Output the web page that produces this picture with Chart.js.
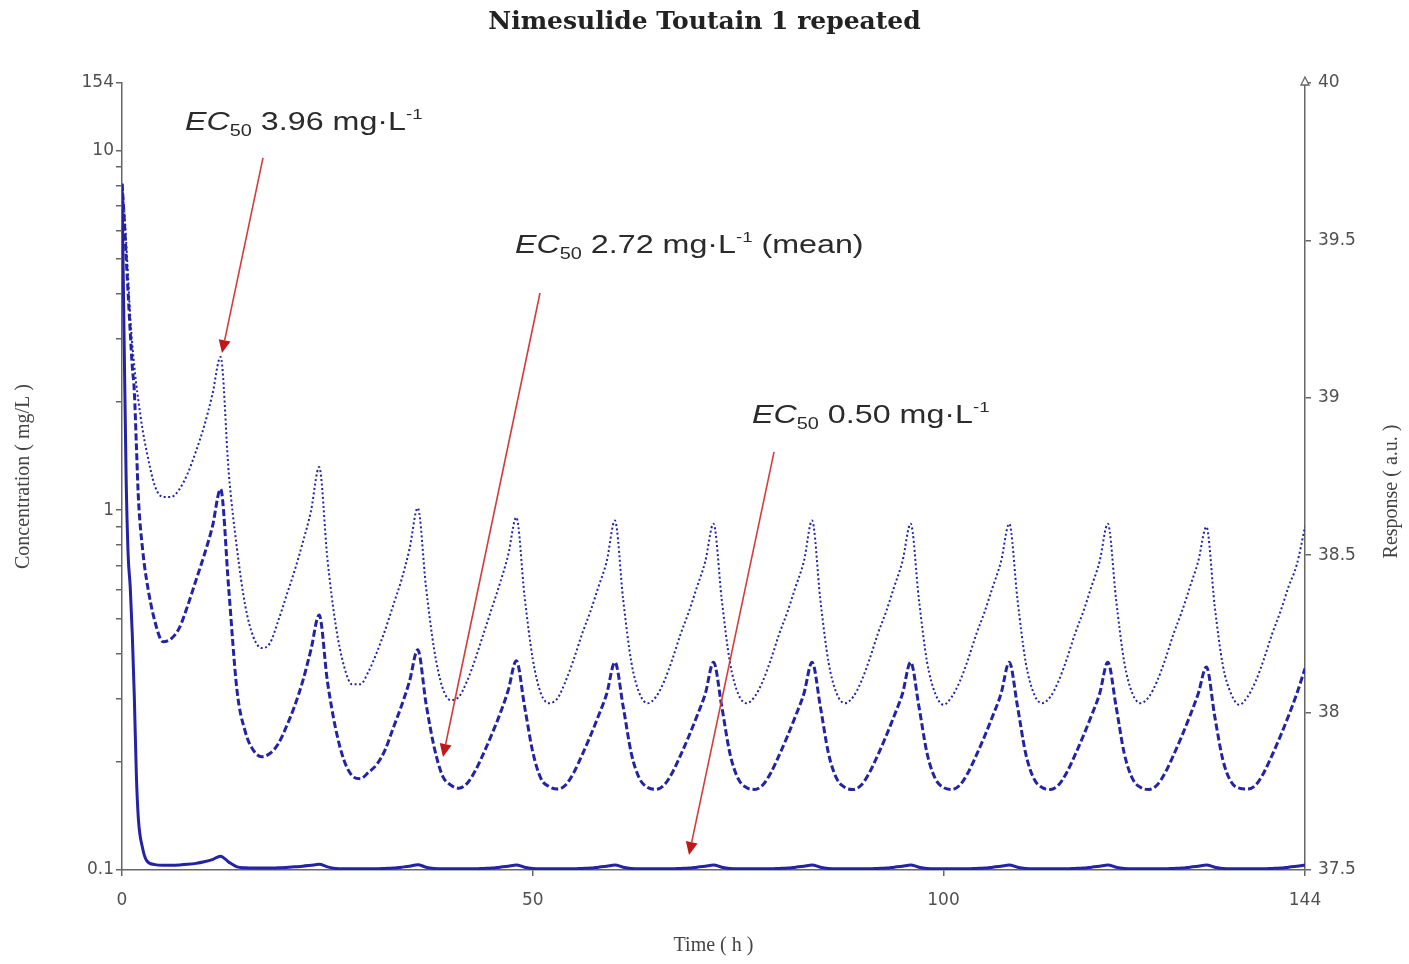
<!DOCTYPE html>
<html><head><meta charset="utf-8">
<script src="https://cdn.jsdelivr.net/npm/chart.js@4.4.1/dist/chart.umd.min.js"></script>
<style>html,body{margin:0;padding:0;background:#fff;}#wrap{width:1409px;height:964px;}</style>
</head><body><div id="wrap"><canvas id="c" width="1409" height="964"></canvas></div>
<script>
// ---- data (time in hours, response in a.u.) ----
const timeH = [0,0.25,0.5,0.75,1,1.25,1.5,1.75,2,2.5,3,
  4,5,6,7,8,9,10,11,
  12,13,14,15,16,17,18,19,20,21,22,23,
  24,25,26,27,28,29,30,31,32,33,34,35,
  36,37,38,39,40,41,42,43,44,45,46,47,
  48,49,50,51,52,53,54,55,56,57,58,59,
  60,61,62,63,64,65,66,67,68,69,70,71,
  72,73,74,75,76,77,78,79,80,81,82,83,
  84,85,86,87,88,89,90,91,92,93,94,95,
  96,97,98,99,100,101,102,103,104,105,106,107,
  108,109,110,111,112,113,114,115,116,117,118,119,
  120,121,122,123,124,125,126,127,128,129,130,131,
  132,133,134,135,136,137,138,139,140,141,142,143,
  144];

const respEC396 = [39.68,39.60,39.50,39.38,39.26,39.17,39.10,39.04,38.99,38.90,38.83,
  38.72,38.685,38.685,38.71,38.76,38.83,38.91,39.01,
  39.13,38.76,38.52,38.34,38.24,38.205,38.22,38.29,38.37,38.45,38.54,38.64,
  38.78,38.49,38.28,38.15,38.09,38.09,38.13,38.19,38.26,38.34,38.42,38.52,
  38.65,38.40,38.20,38.08,38.04,38.05,38.10,38.17,38.25,38.33,38.41,38.50,
  38.62,38.37,38.17,38.06,38.03,38.045,38.10,38.17,38.25,38.32,38.40,38.48,
  38.61,38.36,38.16,38.06,38.03,38.05,38.10,38.17,38.25,38.32,38.40,38.48,
  38.60,38.36,38.16,38.06,38.03,38.05,38.10,38.17,38.25,38.32,38.40,38.48,
  38.61,38.36,38.16,38.06,38.03,38.05,38.10,38.17,38.25,38.32,38.40,38.48,
  38.60,38.36,38.16,38.06,38.025,38.05,38.10,38.17,38.25,38.32,38.40,38.48,
  38.60,38.36,38.16,38.06,38.03,38.05,38.10,38.17,38.25,38.32,38.40,38.48,
  38.60,38.36,38.16,38.06,38.03,38.05,38.10,38.17,38.25,38.32,38.40,38.48,
  38.59,38.34,38.15,38.06,38.025,38.05,38.10,38.17,38.25,38.32,38.40,38.47,
  38.59];

const respEC272 = [39.68,39.58,39.45,39.33,39.21,39.10,39.02,38.85,38.68,38.52,38.42,
  38.29,38.225,38.235,38.27,38.34,38.42,38.50,38.59,
  38.71,38.39,38.07,37.94,37.88,37.86,37.87,37.90,37.955,38.02,38.10,38.20,
  38.31,38.10,37.95,37.85,37.80,37.79,37.81,37.835,37.88,37.95,38.02,38.10,
  38.20,38.03,37.89,37.80,37.77,37.76,37.775,37.815,37.87,37.93,37.995,38.07,
  38.165,38.02,37.875,37.79,37.765,37.757,37.77,37.81,37.865,37.925,37.99,38.06,
  38.16,38.02,37.87,37.79,37.762,37.756,37.77,37.81,37.865,37.925,37.99,38.06,
  38.16,38.02,37.87,37.79,37.762,37.756,37.77,37.81,37.865,37.925,37.99,38.06,
  38.16,38.02,37.87,37.79,37.762,37.756,37.77,37.81,37.865,37.925,37.99,38.06,
  38.16,38.02,37.87,37.79,37.762,37.756,37.77,37.81,37.865,37.925,37.99,38.06,
  38.16,38.02,37.87,37.79,37.762,37.756,37.77,37.81,37.865,37.925,37.99,38.06,
  38.16,38.02,37.87,37.79,37.762,37.756,37.77,37.81,37.865,37.925,37.99,38.06,
  38.145,37.99,37.85,37.78,37.76,37.757,37.77,37.81,37.865,37.925,37.99,38.06,
  38.14];

const respEC050 = [39.68,39.20,38.75,38.50,38.40,38.25,38.05,37.80,37.66,37.57,37.53,
  37.517,37.515,37.515,37.516,37.518,37.521,37.526,37.533,
  37.544,37.525,37.510,37.507,37.506,37.506,37.506,37.507,37.508,37.510,37.512,37.515,
  37.518,37.510,37.505,37.504,37.504,37.504,37.504,37.504,37.505,37.506,37.509,37.512,
  37.517,37.509,37.505,37.504,37.504,37.504,37.504,37.504,37.505,37.506,37.509,37.512,
  37.516,37.509,37.505,37.504,37.504,37.504,37.504,37.504,37.505,37.506,37.509,37.512,
  37.516,37.509,37.505,37.504,37.504,37.504,37.504,37.504,37.505,37.506,37.509,37.512,
  37.516,37.509,37.505,37.504,37.504,37.504,37.504,37.504,37.505,37.506,37.509,37.512,
  37.516,37.509,37.505,37.504,37.504,37.504,37.504,37.504,37.505,37.506,37.509,37.512,
  37.516,37.509,37.505,37.504,37.504,37.504,37.504,37.504,37.505,37.506,37.509,37.512,
  37.516,37.509,37.505,37.504,37.504,37.504,37.504,37.504,37.505,37.506,37.509,37.512,
  37.516,37.509,37.505,37.504,37.504,37.504,37.504,37.504,37.505,37.506,37.509,37.512,
  37.516,37.509,37.505,37.504,37.504,37.504,37.504,37.504,37.505,37.506,37.509,37.512,
  37.516];

// ---- axis ticks ----
const timeTicks = [0, 50, 100, 144];
const respTicks = [37.5, 38, 38.5, 39, 39.5, 40];
const concTicks = [0.1,0.2,0.3,0.4,0.5,0.6,0.7,0.8,0.9,1,2,3,4,5,6,7,8,9,10,15.4];
const concLabeled = [0.1, 1, 10, 15.4];
const concLabelText = ['0.1', '1', '10', '154'];

// ---- annotations (EC50 labels) ----
const ecValues = ['3.96', '2.72', '0.50'];
const ecSuffix = ['', ' (mean)', ''];
const ecTextAt = [[7.67, 39.851], [47.84, 39.46], [76.69, 38.92]];
const ecArrowFrom = [[17.16, 39.762], [50.88, 39.333], [79.37, 38.828]];
const ecArrowTo = [[12.17, 39.142], [39.07, 37.859], [69.02, 37.548]];

const pts = arr => timeH.map((t, i) => ({x: t, y: arr[i]}));
const curveColor = '#2323a3';
const axisColor = '#666';
const tickFont = {family: "'DejaVu Sans', sans-serif", size: 17};
const serif = "'Liberation Serif', 'DejaVu Serif', serif";

const annotPlugin = {
  id: 'annot',
  afterDatasetsDraw(chart) {
    const ctx = chart.ctx, xs = chart.scales.x, ys = chart.scales.yResp;
    ctx.save();
    for (let i = 0; i < ecArrowFrom.length; i++) {
      const x1 = xs.getPixelForValue(ecArrowFrom[i][0]), y1 = ys.getPixelForValue(ecArrowFrom[i][1]);
      const x2 = xs.getPixelForValue(ecArrowTo[i][0]), y2 = ys.getPixelForValue(ecArrowTo[i][1]);
      const a = Math.atan2(y2 - y1, x2 - x1);
      const hl = 13, hw = 6;
      const bx = x2 - hl * Math.cos(a), by = y2 - hl * Math.sin(a);
      ctx.strokeStyle = '#d43c3c'; ctx.lineWidth = 1.6;
      ctx.beginPath(); ctx.moveTo(x1, y1); ctx.lineTo(bx, by); ctx.stroke();
      ctx.fillStyle = '#c01818';
      ctx.beginPath();
      ctx.moveTo(x2, y2);
      ctx.lineTo(bx + hw * Math.sin(a), by - hw * Math.cos(a));
      ctx.lineTo(bx - hw * Math.sin(a), by + hw * Math.cos(a));
      ctx.closePath(); ctx.fill();
    }
    for (let i = 0; i < ecValues.length; i++) {
      const x = xs.getPixelForValue(ecTextAt[i][0]), y = ys.getPixelForValue(ecTextAt[i][1]);
      ctx.save();
      ctx.translate(x, y); ctx.scale(1.24, 1);
      ctx.fillStyle = '#2b2b2b'; ctx.textAlign = 'left'; ctx.textBaseline = 'alphabetic';
      let cx = 0;
      const seg = (t, f, dy) => { ctx.font = f; ctx.fillText(t, cx, dy); cx += ctx.measureText(t).width; };
      seg('EC', 'italic 26px "Liberation Sans", Arial, sans-serif', 0);
      seg('50', '16px "Liberation Sans", Arial, sans-serif', 6);
      seg(' ' + ecValues[i] + ' mg\u00B7L', '26px "Liberation Sans", Arial, sans-serif', 0);
      seg('-1', '15px "Liberation Sans", Arial, sans-serif', -11);
      if (ecSuffix[i]) seg(ecSuffix[i], '26px "Liberation Sans", Arial, sans-serif', 0);
      ctx.restore();
    }
    ctx.restore();
  },
  afterDraw(chart) {
    const ctx = chart.ctx, ys = chart.scales.yResp;
    ctx.save();
    // right axis title, reading bottom to top
    ctx.translate(ys.right - 17, (ys.top + ys.bottom) / 2 + 15);
    ctx.rotate(-Math.PI / 2);
    ctx.font = '20px ' + serif; ctx.fillStyle = '#444';
    ctx.textAlign = 'center'; ctx.textBaseline = 'middle';
    ctx.fillText('Response ( a.u. )', 0, 0);
    ctx.restore();
    // small open arrowhead at the top of the right axis
    ctx.save();
    const ax = ys.left, ay = ys.top;
    ctx.strokeStyle = axisColor; ctx.fillStyle = '#fff'; ctx.lineWidth = 1.3;
    ctx.beginPath(); ctx.moveTo(ax, ay - 6); ctx.lineTo(ax - 4, ay + 2); ctx.lineTo(ax + 4, ay + 2); ctx.closePath();
    ctx.fill(); ctx.stroke();
    ctx.restore();
  }
};

new Chart(document.getElementById('c'), {
  type: 'line',
  data: {
    datasets: [
      {label: 'EC50 3.96', data: pts(respEC396), yAxisID: 'yResp', borderColor: curveColor,
       borderWidth: 2, borderDash: [2, 2.5], pointRadius: 0, cubicInterpolationMode: 'monotone', fill: false},
      {label: 'EC50 2.72 (mean)', data: pts(respEC272), yAxisID: 'yResp', borderColor: curveColor,
       borderWidth: 3, borderDash: [7, 3], pointRadius: 0, cubicInterpolationMode: 'monotone', fill: false},
      {label: 'EC50 0.50', data: pts(respEC050), yAxisID: 'yResp', borderColor: curveColor,
       borderWidth: 3, pointRadius: 0, cubicInterpolationMode: 'monotone', fill: false}
    ]
  },
  options: {
    responsive: false, animation: false, events: [],
    layout: {padding: 0},
    plugins: {
      legend: {display: false}, tooltip: {enabled: false},
      title: {display: true, text: 'Nimesulide Toutain 1 repeated', color: '#222',
        font: {family: "'DejaVu Serif', serif", size: 25, weight: 'bold'}, padding: {top: 7, bottom: 46}}
    },
    scales: {
      x: {
        type: 'linear', min: 0, max: 144, position: 'bottom',
        afterBuildTicks: s => { s.ticks = timeTicks.map(v => ({value: v})); },
        afterFit: s => { s.height = 94; },
        ticks: {autoSkip: false, maxRotation: 0, padding: 14, color: '#505050', font: tickFont},
        grid: {display: true, drawOnChartArea: false, drawTicks: true, tickLength: 6, color: axisColor, lineWidth: 1.5},
        border: {display: true, color: axisColor, width: 1.5},
        title: {display: true, text: 'Time ( h )', color: '#444', font: {family: serif, size: 20}, padding: {top: 0, bottom: 6}}
      },
      yConc: {
        type: 'logarithmic', position: 'left', min: 0.1, max: 15.4,
        afterBuildTicks: s => { s.ticks = concTicks.map(v => ({value: v})); },
        afterFit: s => { s.width = 122; },
        ticks: {autoSkip: false, padding: 2, color: '#505050', font: tickFont,
          callback: v => { const i = concLabeled.indexOf(v); return i >= 0 ? concLabelText[i] : ''; }},
        grid: {display: true, drawOnChartArea: false, drawTicks: true, tickLength: 6, color: axisColor, lineWidth: 1.5},
        border: {display: true, color: axisColor, width: 1.5},
        title: {display: true, text: 'Concentration ( mg/L )', color: '#444', font: {family: serif, size: 20}, padding: {top: 12, bottom: 0}}
      },
      yResp: {
        type: 'linear', position: 'right', min: 37.5, max: 40,
        afterBuildTicks: s => { s.ticks = respTicks.map(v => ({value: v})); },
        afterFit: s => { s.width = 104; },
        ticks: {autoSkip: false, padding: 7, color: '#505050', font: tickFont, callback: v => String(v)},
        grid: {display: true, drawOnChartArea: false, drawTicks: true, tickLength: 6, color: axisColor, lineWidth: 1.5},
        border: {display: true, color: axisColor, width: 1.5},
        title: {display: false}
      }
    }
  },
  plugins: [annotPlugin]
});
</script>
</body></html>
